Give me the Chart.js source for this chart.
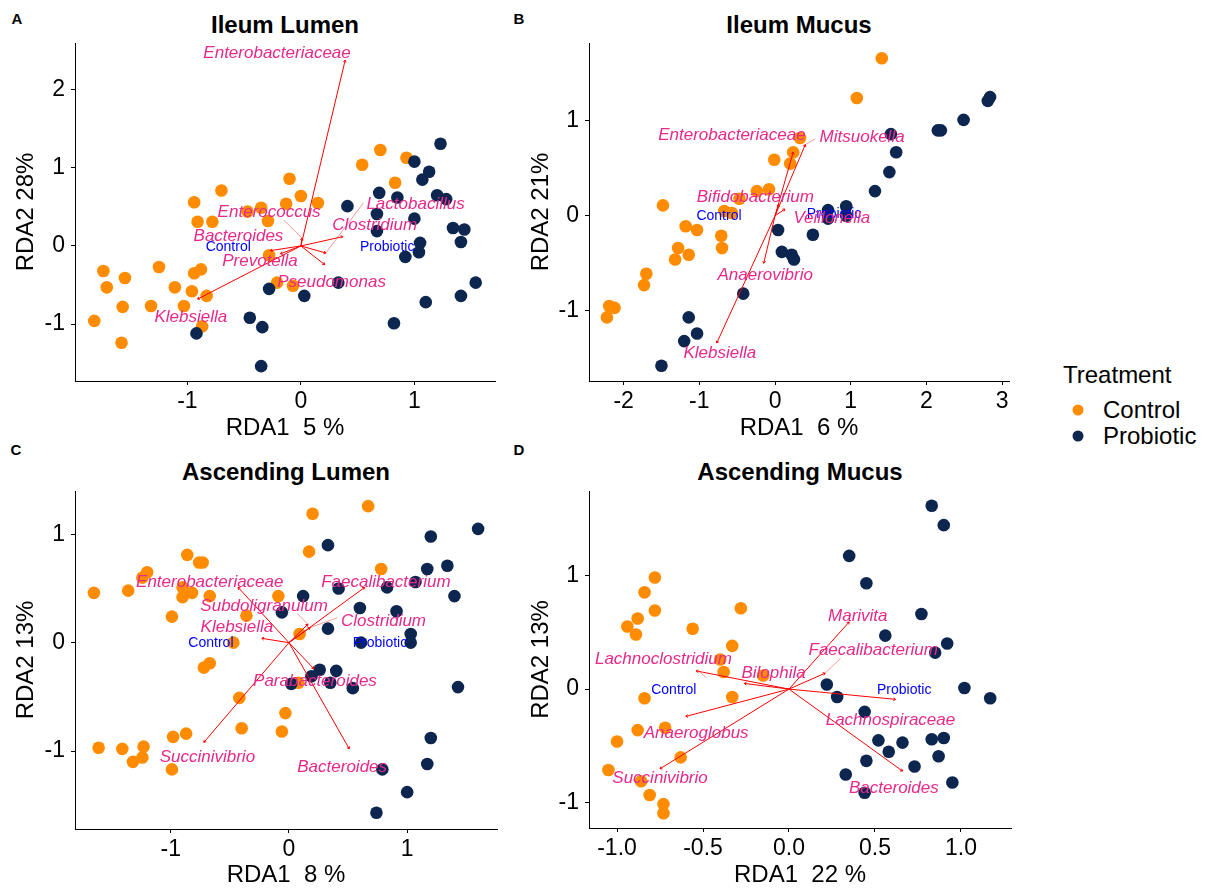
<!DOCTYPE html>
<html lang="en"><head><meta charset="UTF-8"><title>RDA biplots</title>
<script src="https://cdn.jsdelivr.net/npm/chart.js@4"></script>
<style>
  html,body{margin:0;background:#fff;}
  body{width:1208px;height:890px;position:relative;overflow:hidden;
       font-family:"Liberation Sans",Arial,sans-serif;color:#000;}
  canvas{position:absolute;}
  .t{position:absolute;transform:translate(-50%,-50%);line-height:1;white-space:nowrap;}
  .title{font-weight:bold;font-size:24px;}
  .tag{font-weight:bold;font-size:15px;}
  .leg{position:absolute;font-size:24px;line-height:1;transform:translateY(-50%);white-space:nowrap;}
  .dot{position:absolute;width:11px;height:11px;border-radius:50%;transform:translate(-50%,-50%);}
</style>
</head><body>

<div class="t tag" style="left:17px;top:18px">A</div>
<div class="t tag" style="left:519px;top:18px">B</div>
<div class="t tag" style="left:16px;top:449px">C</div>
<div class="t tag" style="left:519px;top:449px">D</div>

<div class="t title" style="left:285px;top:25px">Ileum Lumen</div>
<div class="t title" style="left:799px;top:25px">Ileum Mucus</div>
<div class="t title" style="left:286px;top:472px">Ascending Lumen</div>
<div class="t title" style="left:800px;top:472px">Ascending Mucus</div>

<canvas id="pA" width="510" height="445" style="left:0;top:0"></canvas>
<canvas id="pB" width="505" height="445" style="left:515px;top:0"></canvas>
<canvas id="pC" width="510" height="443" style="left:0;top:447px"></canvas>
<canvas id="pD" width="505" height="443" style="left:515px;top:447px"></canvas>

<div class="leg" style="left:1063px;top:375px">Treatment</div>
<div class="dot" style="left:1078px;top:410px;background:#ff8c00"></div>
<div class="leg" style="left:1103px;top:410px">Control</div>
<div class="dot" style="left:1078px;top:436px;background:#0d2650"></div>
<div class="leg" style="left:1103px;top:436px">Probiotic</div>

<script>
const FONT = '"Liberation Sans", Arial, sans-serif';
const ORANGE = '#ff8c00';
const NAVY = '#0d2650';
const groups = ['Control', 'Probiotic'];

// ---- A: Ileum Lumen ----
const ilLumCtrl = [[0.70,1.23],[0.54,1.04],[0.93,1.13],[0.83,0.81],[-0.10,0.86],[0.00,0.64],[0.15,0.55],
  [-0.13,0.54],[-0.70,0.71],[-0.94,0.56],[-0.47,0.44],[-0.35,0.49],[-0.91,0.31],[-0.78,0.31],[-0.29,0.32],
  [-0.28,-0.12],[-1.74,-0.32],[-1.71,-0.53],[-1.55,-0.41],[-1.25,-0.27],[-0.94,-0.35],[-0.88,-0.30],
  [-1.11,-0.53],[-0.96,-0.58],[-0.83,-0.64],[-1.32,-0.77],[-1.03,-0.77],[-1.57,-0.78],[-1.82,-0.96],
  [-1.58,-1.24],[-0.87,-1.03],[-0.21,-0.47],[-0.07,-0.51]];
const ilLumProb = [[1.23,1.31],[1.00,1.08],[1.13,0.95],[1.07,0.85],[0.69,0.68],[0.85,0.62],[1.20,0.65],
  [1.28,0.60],[0.41,0.51],[0.67,0.41],[1.00,0.35],[1.34,0.23],[1.44,0.21],[0.67,0.19],[1.41,0.05],
  [1.05,0.04],[1.04,-0.08],[0.92,-0.14],[1.54,-0.47],[0.33,-0.47],[1.41,-0.64],[1.10,-0.72],[0.03,-0.64],
  [-0.28,-0.55],[0.82,-0.99],[-0.34,-1.04],[-0.45,-0.92],[-0.35,-1.54],[-0.92,-1.12]];
const ilLumTaxa = ['Enterobacteriaceae','Enterococcus','Lactobacillus','Clostridium','Bacteroides','Prevotella','Pseudomonas','Klebsiella'];
const ilLumTipX = [0.39, 0.01, 0.22, 0.37, -0.27, -0.18, 0.21, -0.91];
const ilLumTipY = [2.38, 0.10, -0.09, 0.12, -0.06, -0.10, -0.24, -0.68];
const ilLumLabX = [-0.21, -0.28, 1.01, 0.65, -0.55, -0.36, 0.27, -0.97];
const ilLumLabY = [2.47, 0.43, 0.54, 0.27, 0.12, -0.19, -0.46, -0.91];
const ilLumLinks = [[-0.15,0.33,0.01,0.10],[0.22,-0.09,0.55,0.55]];
const ilLumGroupX = [-0.64, 0.76];
const ilLumGroupY = [-0.01, -0.01];

// ---- B: Ileum Mucus ----
const ilMucCtrl = [[1.41,1.66],[1.08,1.24],[0.33,0.82],[0.24,0.67],[-0.01,0.59],[0.20,0.55],[-0.24,0.26],
  [-0.08,0.28],[-0.47,0.18],[-1.48,0.11],[-0.67,0.05],[-0.57,0.03],[-1.18,-0.11],[-1.03,-0.15],[-0.71,-0.21],
  [-0.70,-0.34],[-1.28,-0.34],[-1.32,-0.46],[-1.14,-0.41],[-1.70,-0.61],[-1.73,-0.73],[-2.19,-0.95],
  [-2.12,-0.97],[-2.22,-1.07]];
const ilMucProb = [[2.81,1.21],[2.84,1.25],[2.49,1.01],[2.15,0.90],[2.19,0.90],[1.53,0.86],[1.60,0.67],
  [1.51,0.46],[1.32,0.26],[0.70,0.06],[0.94,0.10],[0.70,-0.03],[0.94,0.00],[0.04,-0.15],[0.50,-0.20],
  [0.09,-0.38],[0.22,-0.41],[0.25,-0.46],[-0.42,-0.82],[-1.14,-1.07],[-1.03,-1.24],[-1.20,-1.32],[-1.50,-1.58]];
const ilMucTaxa = ['Enterobacteriaceae','Mitsuokella','Bifidobacterium','Veillonella','Anaerovibrio','Klebsiella'];
const ilMucTipX = [0.24, 0.40, 0.05, 0.13, -0.15, -0.77];
const ilMucTipY = [0.67, 0.75, 0.12, 0.07, -0.50, -1.34];
const ilMucLabX = [-0.57, 1.15, -0.26, 0.75, -0.13, -0.73];
const ilMucLabY = [0.85, 0.83, 0.19, -0.03, -0.63, -1.45];
const ilMucLinks = [[0.40,0.75,0.53,0.81]];
const ilMucGroupX = [-0.74, 0.78];
const ilMucGroupY = [0.00, 0.02];

// ---- C: Ascending Lumen ----
const asLumCtrl = [[0.67,1.26],[0.20,1.19],[0.17,0.84],[-0.86,0.81],[-0.76,0.74],[-0.73,0.74],[-1.20,0.65],
  [-1.24,0.60],[0.78,0.68],[-1.65,0.46],[-1.36,0.48],[-0.90,0.51],[-0.90,0.42],[-0.82,0.46],[-0.67,0.43],
  [-0.09,0.43],[-0.99,0.24],[-0.36,0.25],[0.09,0.08],[-0.47,0.00],[-0.72,-0.23],[-0.67,-0.19],[-0.42,-0.51],
  [-0.03,-0.65],[-0.40,-0.79],[-0.06,-0.82],[0.08,-0.37],[-0.98,-0.87],[-0.87,-0.84],[-1.61,-0.97],
  [-1.41,-0.98],[-1.23,-0.96],[-1.24,-1.06],[-1.32,-1.10],[-0.99,-1.17]];
const asLumProb = [[1.60,1.05],[1.20,0.98],[0.33,0.90],[1.17,0.68],[1.34,0.71],[1.07,0.56],[0.83,0.51],
  [0.42,0.50],[0.12,0.43],[1.40,0.43],[0.60,0.32],[0.91,0.29],[-0.06,0.28],[0.33,0.13],[1.03,0.08],
  [0.61,0.00],[1.03,0.00],[0.26,-0.25],[0.40,-0.26],[0.19,-0.31],[0.35,-0.37],[0.02,-0.38],[0.54,-0.42],
  [1.43,-0.41],[1.20,-0.88],[1.17,-1.12],[0.79,-1.17],[1.00,-1.38],[0.74,-1.57]];
const asLumTaxa = ['Enterobacteriaceae','Faecalibacterium','Subdoligranulum','Clostridium','Klebsiella','Parabacteroides','Succinivibrio','Bacteroides'];
const asLumTipX = [-0.43, 0.64, 0.16, 0.18, -0.23, 0.21, -0.72, 0.51];
const asLumTipY = [0.51, 0.51, 0.17, 0.14, 0.04, -0.24, -0.92, -0.98];
const asLumLabX = [-0.67, 0.82, -0.21, 0.80, -0.44, 0.22, -0.69, 0.45];
const asLumLabY = [0.56, 0.56, 0.34, 0.20, 0.14, -0.36, -1.06, -1.15];
const asLumLinks = [[0.18,0.14,0.41,0.23],[0.16,0.17,0.07,0.27]];
const asLumGroupX = [-0.66, 0.77];
const asLumGroupY = [0.00, 0.00];

// ---- D: Ascending Mucus ----
const asMucCtrl = [[-0.78,0.98],[-0.84,0.85],[-0.78,0.69],[-0.88,0.62],[-0.94,0.55],[-0.89,0.48],[-0.56,0.53],
  [-0.28,0.71],[-0.33,0.38],[-0.40,0.26],[-0.38,0.15],[-0.15,0.12],[-0.33,-0.07],[-0.84,-0.08],[-0.88,-0.36],
  [-0.72,-0.34],[-1.00,-0.46],[-0.63,-0.60],[-1.05,-0.71],[-0.86,-0.81],[-0.81,-0.93],[-0.73,-1.01],[-0.73,-1.09]];
const asMucProb = [[0.83,1.61],[0.90,1.44],[0.35,1.17],[0.45,0.93],[0.77,0.66],[0.56,0.47],[0.92,0.40],
  [0.85,0.32],[0.22,0.04],[0.28,-0.07],[1.02,0.01],[1.17,-0.08],[0.44,-0.20],[0.52,-0.45],[0.58,-0.55],
  [0.66,-0.47],[0.83,-0.44],[0.90,-0.43],[0.87,-0.59],[0.45,-0.63],[0.73,-0.68],[0.33,-0.75],[0.95,-0.82],[0.44,-0.91]];
const asMucTaxa = ['Marivita','Faecalibacterium','Lachnoclostridium','Bilophila','Anaeroglobus','Succinivibrio','Lachnospiraceae','Bacteroides'];
const asMucTipX = [0.35, 0.21, -0.54, -0.26, -0.60, -0.75, 0.62, 0.66];
const asMucTipY = [0.59, 0.14, 0.16, 0.05, -0.24, -0.70, -0.09, -0.72];
const asMucLabX = [0.40, 0.49, -0.73, -0.09, -0.54, -0.75, 0.59, 0.61];
const asMucLabY = [0.64, 0.34, 0.26, 0.14, -0.39, -0.78, -0.27, -0.87];
const asMucLinks = [[0.21,0.14,0.30,0.27],[-0.52,0.15,-0.48,0.10]];
const asMucGroupX = [-0.67, 0.67];
const asMucGroupY = [-0.01, -0.01];

// labels + tiny arrow heads drawn on top of datasets
function biplotText(p) {
  return {
    id: 'biplotText',
    afterDatasetsDraw(chart) {
      const { ctx, scales: { x, y } } = chart;
      const ox = x.getPixelForValue(0), oy = y.getPixelForValue(0);
      ctx.save();
      ctx.strokeStyle = '#ff0000';
      ctx.lineWidth = 1;
      p.tipX.forEach((tx, i) => {
        const px = x.getPixelForValue(tx), py = y.getPixelForValue(p.tipY[i]);
        const a = Math.atan2(py - oy, px - ox);
        ctx.beginPath();
        ctx.moveTo(px - 2.5 * Math.cos(a - 0.6), py - 2.5 * Math.sin(a - 0.6));
        ctx.lineTo(px, py);
        ctx.lineTo(px - 2.5 * Math.cos(a + 0.6), py - 2.5 * Math.sin(a + 0.6));
        ctx.stroke();
      });
      ctx.textAlign = 'center';
      ctx.textBaseline = 'middle';
      ctx.fillStyle = '#0000ff';
      ctx.font = '14px ' + FONT;
      groups.forEach((g, i) => {
        ctx.fillText(g, x.getPixelForValue(p.groupX[i]), y.getPixelForValue(p.groupY[i]));
      });
      ctx.fillStyle = '#e7298a';
      ctx.font = 'italic 17px ' + FONT;
      p.taxa.forEach((t, i) => {
        ctx.fillText(t, x.getPixelForValue(p.labX[i]), y.getPixelForValue(p.labY[i]));
      });
      ctx.restore();
    }
  };
}

function axis(min, max, ticks, title, isX, size, titlePad, fmt) {
  return {
    type: 'linear', min, max,
    afterBuildTicks: s => { s.ticks = ticks.map(v => ({ value: v })); },
    afterFit: s => { if (isX) s.height = size; else s.width = size; },
    ticks: { color: '#000', font: { size: 23, family: FONT }, padding: isX ? 3 : 6,
             callback: fmt || (v => String(v)) },
    grid: { drawOnChartArea: false, drawTicks: true, tickLength: 4, color: '#000', tickColor: '#000' },
    border: { display: true, color: '#000', width: 1 },
    title: { display: true, text: title, color: '#000', font: { size: 24, family: FONT },
             padding: isX ? { top: 0, bottom: titlePad } : { top: titlePad, bottom: 0 } }
  };
}

function drawPanel(p) {
  const datasets = [];
  p.tipX.forEach((tx, i) => datasets.push({
    data: [{ x: 0, y: 0 }, { x: tx, y: p.tipY[i] }], showLine: true,
    borderColor: '#ff0000', borderWidth: 1, pointRadius: 0, order: 0
  }));
  p.links.forEach(l => datasets.push({
    data: [{ x: l[0], y: l[1] }, { x: l[2], y: l[3] }], showLine: true,
    borderColor: '#f39a9a', borderWidth: 1, pointRadius: 0, order: 0
  }));
  datasets.push({ data: p.prob.map(([x, y]) => ({ x, y })), backgroundColor: NAVY,
                  pointRadius: 6.3, borderWidth: 0, order: 1 });
  datasets.push({ data: p.ctrl.map(([x, y]) => ({ x, y })), backgroundColor: ORANGE,
                  pointRadius: 6.3, borderWidth: 0, order: 2 });

  const b = p.box, a = p.area;
  new Chart(document.getElementById(p.id), {
    type: 'scatter',
    data: { datasets },
    options: {
      responsive: false, animation: false, events: [],
      layout: { padding: { left: 0, top: a.t - b.top, right: b.left + b.w - a.r, bottom: 0 } },
      plugins: { legend: { display: false }, tooltip: { enabled: false } },
      scales: {
        x: axis(p.xMin, p.xMax, p.xTicks, p.xTitle, true, b.top + b.h - a.b, p.xPad, p.fmt),
        y: axis(p.yMin, p.yMax, p.yTicks, p.yTitle, false, a.l - b.left, 12)
      }
    },
    plugins: [biplotText(p)]
  });
}

drawPanel({ id: 'pA', box: { left: 0, top: 0, w: 510, h: 445 }, area: { l: 75, t: 43, r: 495, b: 381 },
  xMin: -1.99, xMax: 1.71, yMin: -1.73, yMax: 2.60, xTicks: [-1, 0, 1], yTicks: [-1, 0, 1, 2],
  xTitle: 'RDA1  5 %', yTitle: 'RDA2 28%', xPad: 2,
  ctrl: ilLumCtrl, prob: ilLumProb, taxa: ilLumTaxa, tipX: ilLumTipX, tipY: ilLumTipY,
  labX: ilLumLabX, labY: ilLumLabY, links: ilLumLinks, groupX: ilLumGroupX, groupY: ilLumGroupY });

drawPanel({ id: 'pB', box: { left: 515, top: 0, w: 505, h: 445 }, area: { l: 589, t: 43, r: 1009, b: 381 },
  xMin: -2.457, xMax: 3.09, yMin: -1.74, yMax: 1.82, xTicks: [-2, -1, 0, 1, 2, 3], yTicks: [-1, 0, 1],
  xTitle: 'RDA1  6 %', yTitle: 'RDA2 21%', xPad: 2,
  ctrl: ilMucCtrl, prob: ilMucProb, taxa: ilMucTaxa, tipX: ilMucTipX, tipY: ilMucTipY,
  labX: ilMucLabX, labY: ilMucLabY, links: ilMucLinks, groupX: ilMucGroupX, groupY: ilMucGroupY });

drawPanel({ id: 'pC', box: { left: 0, top: 447, w: 510, h: 443 }, area: { l: 75, t: 491, r: 497, b: 829 },
  xMin: -1.81, xMax: 1.76, yMin: -1.72, yMax: 1.40, xTicks: [-1, 0, 1], yTicks: [-1, 0, 1],
  xTitle: 'RDA1  8 %', yTitle: 'RDA2 13%', xPad: 0,
  ctrl: asLumCtrl, prob: asLumProb, taxa: asLumTaxa, tipX: asLumTipX, tipY: asLumTipY,
  labX: asLumLabX, labY: asLumLabY, links: asLumLinks, groupX: asLumGroupX, groupY: asLumGroupY });

drawPanel({ id: 'pD', box: { left: 515, top: 447, w: 505, h: 443 }, area: { l: 589, t: 491, r: 1011, b: 828 },
  xMin: -1.163, xMax: 1.291, yMin: -1.22, yMax: 1.74, xTicks: [-1, -0.5, 0, 0.5, 1], yTicks: [-1, 0, 1],
  xTitle: 'RDA1  22 %', yTitle: 'RDA2 13%', xPad: 0, fmt: v => v.toFixed(1),
  ctrl: asMucCtrl, prob: asMucProb, taxa: asMucTaxa, tipX: asMucTipX, tipY: asMucTipY,
  labX: asMucLabX, labY: asMucLabY, links: asMucLinks, groupX: asMucGroupX, groupY: asMucGroupY });
</script>
</body></html>
